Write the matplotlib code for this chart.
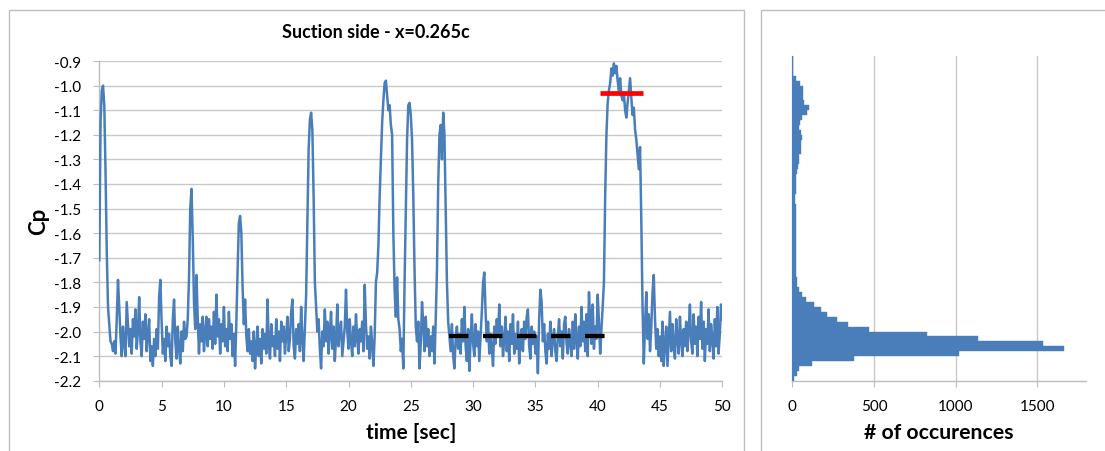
import numpy as np
import matplotlib
matplotlib.use("Agg")
import matplotlib.pyplot as plt
from matplotlib.patches import Rectangle

plt.rcParams['font.family'] = ['Lato', 'DejaVu Sans']
plt.rcParams['lines.scale_dashes'] = False

# ---------------- data ----------------
dt = 0.1  # sec between samples
cp = [
    -1.71, -1.15, -1.02, -1.00, -1.08, -1.35, -1.68, -1.90, -1.97, -2.04,
    -2.05, -2.08, -2.04, -2.09, -1.95, -1.79, -1.90, -2.02, -2.10, -1.98,
    -2.05, -2.10, -1.88, -1.97, -2.06, -1.99, -2.09, -1.95, -2.02, -1.91,
    -2.07, -2.00, -1.86, -2.04, -2.10, -1.96, -2.03, -1.93, -2.08, -2.01,
    -1.95, -2.12, -2.06, -2.14, -2.03, -2.10, -1.99, -2.07, -1.86, -1.79,
    -1.96, -2.09, -2.03, -2.12, -1.98, -2.06, -2.01, -2.10, -2.14, -1.95,
    -1.87, -2.04, -2.11, -1.98, -2.07, -2.13, -2.00, -2.08, -1.96, -2.03,
    -2.02, -1.95, -1.78, -1.50, -1.42, -1.62, -1.88, -1.99, -1.77, -1.95,
    -2.09, -1.97, -2.04, -1.94, -2.08, -2.00, -1.94, -2.06, -1.95, -2.03,
    -1.98, -2.07, -1.92, -2.05, -1.85, -2.02, -1.95, -2.09, -1.97, -2.04,
    -1.90, -2.06, -1.99, -2.08, -1.92, -2.03, -1.97, -2.10, -2.01, -2.14,
    -1.96, -1.75, -1.56, -1.53, -1.60, -1.82, -1.97, -1.87, -2.02, -2.08,
    -1.99, -2.09, -2.04, -2.12, -2.00, -2.15, -2.06, -1.98, -2.10, -2.03,
    -2.13, -1.99, -2.07, -2.01, -2.09, -1.87, -2.05, -2.11, -1.97, -2.06,
    -2.02, -2.10, -1.95, -2.07, -2.00, -2.12, -1.96, -2.04, -1.98, -2.09,
    -2.01, -1.94, -2.08, -2.03, -1.92, -1.87, -2.06, -2.11, -1.99, -2.05,
    -1.97, -2.08, -1.90, -2.03, -2.12, -1.98, -1.85, -1.55, -1.26, -1.14,
    -1.11, -1.18, -1.45, -1.80, -1.90, -2.00, -1.95, -2.07, -2.15, -2.00,
    -2.06, -1.91, -2.04, -1.96, -2.09, -2.01, -1.92, -2.07, -1.98, -2.12,
    -2.03, -1.89, -2.06, -2.00, -1.96, -2.10, -2.04, -1.98, -1.83, -2.00,
    -2.07, -1.95, -2.04, -2.10, -1.98, -2.06, -1.93, -2.03, -2.09, -1.99,
    -2.04, -1.96, -2.08, -1.81, -1.97, -2.07, -2.02, -2.11, -1.98, -2.05,
    -2.14, -2.02, -1.80, -1.76, -1.65, -1.45, -1.30, -1.15, -1.06, -0.99,
    -0.98, -1.04, -1.10, -1.08, -1.16, -1.20, -1.60, -1.83, -1.94, -1.78,
    -1.95, -1.99, -2.08, -2.03, -2.15, -1.80, -1.50, -1.22, -1.08, -1.07,
    -1.12, -1.22, -1.45, -1.75, -1.98, -2.04, -1.96, -2.15, -2.05, -1.88,
    -1.97, -2.08, -1.94, -2.06, -1.99, -2.10, -2.02, -2.08, -1.98, -2.13,
    -1.95, -1.75, -1.40, -1.20, -1.16, -1.30, -1.11, -1.20, -1.50, -1.80,
    -1.96, -2.02, -2.08, -1.97, -2.10, -2.15, -2.03, -1.98, -2.07, -2.01,
    -2.09, -1.95, -2.04, -1.90, -2.06, -2.12, -1.99, -2.16, -2.03, -1.93,
    -2.05, -2.10, -1.97, -2.06, -2.00, -2.12, -2.02, -1.92, -1.80, -1.76,
    -1.92, -2.04, -1.96, -2.09, -2.01, -2.07, -2.14, -1.98, -2.05, -1.95,
    -2.02, -1.89, -2.06, -1.98, -2.10, -2.03, -1.94, -2.08, -2.00, -2.12,
    -1.97, -2.05, -1.93, -2.09, -2.01, -2.07, -1.96, -2.13, -2.04, -1.99,
    -2.08, -1.96, -2.03, -1.94, -1.91, -2.06, -2.11, -1.98, -2.05, -2.00,
    -2.09, -2.02, -2.17, -1.95, -1.83, -1.88, -2.04, -1.97, -2.08, -2.13,
    -2.01, -2.07, -1.96, -2.10, -2.03, -1.99, -2.08, -2.12, -2.02, -1.95,
    -2.06, -2.00, -2.11, -1.97, -1.94, -2.05, -2.09, -1.99, -2.04, -2.10,
    -1.96, -2.07, -1.93, -2.03, -2.11, -1.98, -2.06, -1.90, -2.04, -1.96,
    -2.08, -1.93, -2.10, -1.84, -1.97, -2.05, -1.89, -2.07, -1.98, -2.03,
    -1.85, -1.96, -2.09, -1.99, -1.90, -1.80, -1.45, -1.20, -1.07, -1.02,
    -0.99, -0.93, -0.96, -0.91, -0.95, -0.92, -0.98, -1.02, -0.97, -1.04,
    -1.06, -1.03, -1.10, -1.13, -1.07, -1.02, -0.97, -1.05, -1.12, -1.09,
    -1.18, -1.22, -1.28, -1.34, -1.25, -1.55, -1.90, -2.13, -1.97, -1.84,
    -2.03, -1.93, -2.08, -1.98, -1.84, -1.77, -1.95, -2.07, -1.99, -2.10,
    -2.02, -2.12, -1.96, -2.14, -2.05, -1.98, -2.14, -2.03, -1.92, -2.08,
    -1.97, -2.06, -2.11, -1.95, -2.03, -2.09, -1.94, -2.04, -2.10, -1.99,
    -2.06, -1.96, -2.08, -2.00, -1.89, -2.04, -2.09, -1.93, -2.05, -1.98,
    -2.10, -1.94, -2.03, -1.88, -2.07, -1.96, -2.12, -1.99, -2.05, -1.91,
    -2.08, -1.97, -2.03, -2.11, -1.95, -2.06, -1.90, -2.09, -2.01, -1.89,
    -1.95,
]

# reference levels drawn on the time trace
low_level = -2.02
low_range = (28.1, 40.6)
high_level = -1.03
high_range = (40.2, 43.65)

# histogram of Cp (bin width 0.02), from top bin (-0.88..-0.90) downwards
hist_top = -0.88
hist_bin = 0.02
hist_counts = [
    3, 4, 4, 5, 20, 45, 67, 63, 67, 73, 100, 92, 59, 47, 39, 53, 57, 53, 53, 55,
    43, 39, 37, 29, 24, 22,
    21, 20, 19, 19, 21, 20, 22, 21, 23, 20, 22, 24, 21, 23, 20, 22, 21, 23, 25, 27,
    28, 38, 60, 84, 135, 176, 212, 272, 343, 470, 823, 1137, 1533, 1666, 1020, 376,
    118, 43, 27, 12,
]

title = "Suction side - x=0.265c"
x_ticks = [0, 5, 10, 15, 20, 25, 30, 35, 40, 45, 50]
y_ticks = [-2.2, -2.1, -2.0, -1.9, -1.8, -1.7, -1.6, -1.5, -1.4, -1.3, -1.2, -1.1, -1.0, -0.9]
h_ticks = [0, 500, 1000, 1500]

# ---------------- styling ----------------
BLUE = '#4A7EBB'
GRID = '#c9c9c9'
AX = '#bdbdbd'
W, H = 1105, 452

fig = plt.figure(figsize=(W / 100, H / 100), dpi=100)

# chart-area borders
fig.patches.append(Rectangle((8.5 / W, -0.05), (743.5 - 8.5) / W, 1.05 - 11 / H,
                             transform=fig.transFigure, fill=False,
                             edgecolor=AX, lw=1.0))
fig.patches.append(Rectangle((760.5 / W, -0.05), 0.4, 1.05 - 11 / H,
                             transform=fig.transFigure, fill=False,
                             edgecolor=AX, lw=1.0))

def px(x0, y0, x1, y1):
    return [x0 / W, 1 - y1 / H, (x1 - x0) / W, (y1 - y0) / H]

# ---- time trace ----
ax1 = fig.add_axes(px(99.3, 62, 722.3, 381.7))
time = np.arange(len(cp)) * dt
ax1.plot(time, cp, color=BLUE, lw=1.8, zorder=3)
ax1.plot(low_range, [low_level, low_level], color='black', lw=3.1,
         dashes=(14.0, 10.5), solid_capstyle='butt', dash_capstyle='butt', zorder=4)
ax1.plot(high_range, [high_level, high_level], color='#ff0000', lw=3.4,
         solid_capstyle='butt', zorder=4)
ax1.set_xlim(0, 50)
ax1.set_ylim(-2.2, -0.9)
ax1.set_xticks(x_ticks)
ax1.set_yticks(y_ticks)
ax1.set_yticklabels([f"{v:.1f}" for v in y_ticks])
ax1.grid(axis='y', color=GRID, lw=1.0, zorder=0)
ax1.set_axisbelow(True)
for s in ('top', 'right'):
    ax1.spines[s].set_visible(False)
for s in ('left', 'bottom'):
    ax1.spines[s].set_color(AX)
    ax1.spines[s].set_linewidth(1.0)
ax1.tick_params(axis='x', direction='out', length=4, color=AX, pad=9, labelsize=11)
ax1.tick_params(axis='y', direction='out', length=4, color=AX, pad=9, labelsize=11)

fig.text(375.8 / W, 1 - 33 / H, title, ha='center', va='center',
         fontsize=13, fontweight='bold')
fig.text(39 / W, 1 - 221 / H, 'Cp', rotation=90, ha='center', va='center',
         fontsize=16, fontweight='bold')
fig.text(410.8 / W, 1 - 433 / H, 'time [sec]', ha='center', va='center',
         fontsize=15, fontweight='bold')

# ---- histogram ----
ax2 = fig.add_axes(px(792.3, 57.1, 1086.2, 381.7))
centers = [hist_top - hist_bin * (i + 0.5) for i in range(len(hist_counts))]
ax2.barh(centers, hist_counts, height=hist_bin, color=BLUE, edgecolor=BLUE,
         lw=0.3, zorder=3)
ax2.set_xlim(0, 1800)
ax2.set_ylim(-2.2, hist_top)
ax2.set_xticks(h_ticks)
ax2.set_yticks([])
ax2.grid(axis='x', color=GRID, lw=1.0, zorder=0)
ax2.set_axisbelow(True)
for s in ('top', 'right'):
    ax2.spines[s].set_visible(False)
for s in ('left', 'bottom'):
    ax2.spines[s].set_color(AX)
    ax2.spines[s].set_linewidth(1.0)
ax2.tick_params(axis='x', direction='out', length=4, color=AX, pad=9, labelsize=11)
fig.text(939 / W, 1 - 433 / H, '# of occurences', ha='center', va='center',
         fontsize=15.3, fontweight='bold')

fig.savefig('out.png', dpi=100)
